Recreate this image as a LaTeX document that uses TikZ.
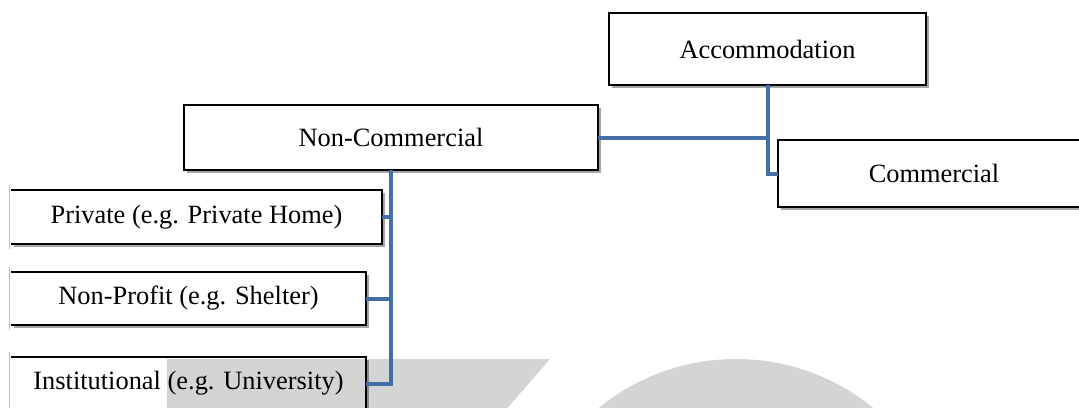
\documentclass[tikz,border=0pt]{standalone}
\usepackage{fontspec}
\setmainfont{Liberation Serif}
\usetikzlibrary{shadows}
\definecolor{linkblue}{RGB}{68,110,166}
\definecolor{markgray}{RGB}{212,212,212}
\definecolor{edgegray}{RGB}{190,190,190}

\begin{document}
\begin{tikzpicture}[x=0.5pt,y=-0.5pt,
  box/.style={rectangle, fill=white, inner sep=0pt, outer sep=0pt,
    font=\fontsize{13.2}{15}\selectfont,
    drop shadow={shadow xshift=1.3pt, shadow yshift=-1.3pt, opacity=0.35, fill=black}},
  boxframe/.style={draw=black, line width=1.1pt},
  sideline/.style={draw=edgegray, line width=0.5pt},
  link/.style={draw=linkblue, line width=2pt, line join=miter}]

\useasboundingbox (0,0) rectangle (1079,407);
\clip (0,0) rectangle (1079,407);

% top level and second level boxes
\node[box, boxframe, minimum width=158.5pt, minimum height=36pt] (acc) at (767.5,49) {Accommodation};
\node[box, boxframe, minimum width=156pt, minimum height=33.5pt] (com) at (934,173.5) {Commercial};
\node[box, boxframe, minimum width=207pt, minimum height=32.5pt] (noncom) at (391,137.5) {Non-Commercial};

% third level boxes (left side shown as a faint edge)
\node[box, minimum width=185.5pt, minimum height=27pt] (priv) at (196.5,217) {Private (e.g. Private Home)};
\node[box, minimum width=177.5pt, minimum height=26.5pt] (nonprof) at (188.5,298.5) {Non-Profit (e.g. Shelter)};
\node[box, minimum width=177.5pt, minimum height=26.5pt] (inst) at (188.5,383.5) {Institutional (e.g. University)};

\foreach \n in {priv,nonprof,inst}{
  \draw[boxframe] (\n.north west) -- (\n.north east) -- (\n.south east) -- (\n.south west);
  \draw[sideline] ([shift={(-2,-5)}]\n.north west) -- ([shift={(-2,5)}]\n.south west);
}

% grey background marks
\begin{scope}[blend mode=multiply]
  \fill[markgray] (167,359) -- (550,359) -- (497,420) -- (167,420) -- cycle;
  \fill[markgray] (736,576) circle[radius=217];
\end{scope}

% connectors
\draw[link] (acc.south) |- (com.west);
\draw[link] (noncom.east) -- (noncom.east -| acc.south);
\draw[link] (noncom.south) |- (priv.east);
\draw[link] (noncom.south) |- (nonprof.east);
\draw[link] (noncom.south) |- (inst.east);
\end{tikzpicture}
\end{document}
